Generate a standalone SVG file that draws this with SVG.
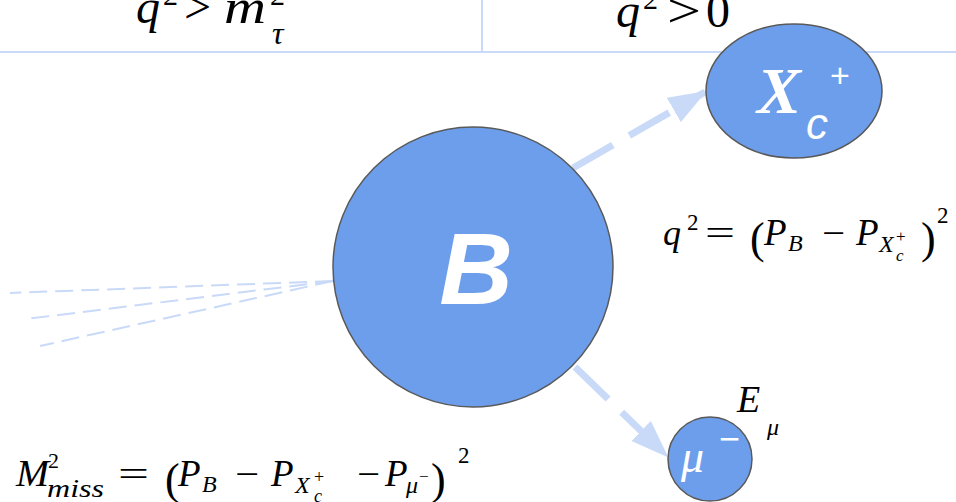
<svg xmlns="http://www.w3.org/2000/svg" width="956" height="502" viewBox="0 0 956 502">
<style>
.node{fill:#6d9eeb;stroke:#595959;stroke-width:1.5}
.math{font-family:"Liberation Serif",serif;font-style:italic;fill:#000}
.rm{font-family:"Liberation Serif",serif;font-style:normal;fill:#000}
.conn{stroke:#c9daf8;fill:none}
.thin{stroke:#c9daf8;fill:none;stroke-width:2;stroke-dasharray:18,8}
.w{fill:#fff}
</style>
<defs>
<marker id="ah" viewBox="0 0 38 28" refX="36" refY="14" markerWidth="38" markerHeight="28" orient="auto" markerUnits="userSpaceOnUse">
<path d="M0,0 L38,14 L0,28 z" fill="#c9daf8"/>
</marker>
</defs>
<g id="frame">
<line x1="0" y1="52" x2="956" y2="52" stroke="#c9daf8" stroke-width="2"/>
<line x1="482" y1="0" x2="482" y2="52" stroke="#c9daf8" stroke-width="2"/>
<text class="math" x="136" y="23" font-size="48">q</text>
<text class="rm" x="163" y="5" font-size="30">2</text>
<text class="rm" x="184" y="23" font-size="48">&gt;</text>
<text class="math" x="224" y="23" font-size="48" textLength="42" lengthAdjust="spacingAndGlyphs">m</text>
<text class="rm" x="270" y="5" font-size="30">2</text>
<text class="math" x="272" y="44" font-size="32">τ</text>
<text class="math" x="616" y="27" font-size="48">q</text>
<text class="rm" x="643" y="9" font-size="30">2</text>
<text class="rm" x="667" y="27" font-size="48" textLength="34" lengthAdjust="spacingAndGlyphs">&gt;</text>
<text class="rm" x="706" y="27" font-size="48">0</text>
</g>
<g id="connectors">
<line class="conn" x1="573" y1="168" x2="705" y2="92" stroke-width="7" stroke-dasharray="46,19" marker-end="url(#ah)"/>
<line class="conn" x1="575" y1="367" x2="667" y2="456" stroke-width="7" stroke-dasharray="46,19" marker-end="url(#ah)"/>
<line class="thin" x1="333" y1="281" x2="10" y2="293"/>
<line class="thin" x1="333" y1="281" x2="26" y2="319"/>
<line class="thin" x1="333" y1="281" x2="40" y2="346"/>
</g>
<g id="B">
<circle class="node" cx="473" cy="267" r="140"/>
<text x="476" y="304" text-anchor="middle" font-family="Liberation Sans,sans-serif" font-weight="bold" font-style="italic" font-size="102" class="w">B</text>
</g>
<g id="Xc">
<ellipse class="node" cx="794" cy="91" rx="88" ry="67"/>
<text x="757" y="113" font-family="Liberation Serif,serif" font-weight="bold" font-style="italic" font-size="66" class="w">X</text>
<text x="806" y="139" font-family="Liberation Sans,sans-serif" font-style="italic" font-size="44" class="w">c</text>
<text x="830" y="87" font-family="Liberation Sans,sans-serif" font-size="34" class="w">+</text>
</g>
<g id="mu">
<circle class="node" cx="710" cy="459" r="42"/>
<text x="681" y="472" font-family="Liberation Serif,serif" font-style="italic" font-size="46" class="w">μ</text>
<text x="719" y="451" font-family="Liberation Sans,sans-serif" font-size="36" class="w">−</text>
</g>
<g id="Emu">
<text class="math" x="737" y="412" font-size="38">E</text>
<text class="math" x="767" y="435" font-size="24">μ</text>
</g>
<g id="q2formula">
<text class="math" x="663" y="245" font-size="36">q</text>
<text class="rm" x="687" y="230" font-size="23">2</text>
<text class="rm" x="705" y="245" font-size="36" textLength="30" lengthAdjust="spacingAndGlyphs">=</text>
<text class="rm" x="750" y="253" font-size="44">(</text>
<text class="math" x="764" y="245" font-size="37">P</text>
<text class="math" x="788" y="251" font-size="24">B</text>
<text class="rm" x="822" y="245" font-size="36" textLength="23" lengthAdjust="spacingAndGlyphs">−</text>
<text class="math" x="856" y="245" font-size="37">P</text>
<text class="math" x="879" y="252" font-size="24">X</text>
<text class="math" x="896" y="261" font-size="17">c</text>
<text class="rm" x="896" y="242" font-size="17">+</text>
<text class="rm" x="921" y="253" font-size="44">)</text>
<text class="rm" x="937" y="223" font-size="23">2</text>
</g>
<g id="Mformula">
<text class="math" x="16" y="486" font-size="37" textLength="33" lengthAdjust="spacingAndGlyphs">M</text>
<text class="rm" x="48" y="468" font-size="22">2</text>
<text class="math" x="47" y="497" font-size="25" textLength="57" lengthAdjust="spacingAndGlyphs">miss</text>
<text class="rm" x="118" y="486" font-size="36" textLength="31" lengthAdjust="spacingAndGlyphs">=</text>
<text class="rm" x="165" y="494" font-size="44">(</text>
<text class="math" x="178" y="486" font-size="37">P</text>
<text class="math" x="202" y="492" font-size="24">B</text>
<text class="rm" x="235" y="486" font-size="36" textLength="24" lengthAdjust="spacingAndGlyphs">−</text>
<text class="math" x="271" y="486" font-size="37">P</text>
<text class="math" x="295" y="493" font-size="24">X</text>
<text class="math" x="314" y="502" font-size="18">c</text>
<text class="rm" x="314" y="483" font-size="18">+</text>
<text class="rm" x="357" y="486" font-size="36" textLength="23" lengthAdjust="spacingAndGlyphs">−</text>
<text class="math" x="385" y="486" font-size="37">P</text>
<text class="math" x="406" y="493" font-size="24">μ</text>
<text class="rm" x="419" y="482" font-size="17">−</text>
<text class="rm" x="431" y="494" font-size="44">)</text>
<text class="rm" x="458" y="463" font-size="23">2</text>
</g>
</svg>
